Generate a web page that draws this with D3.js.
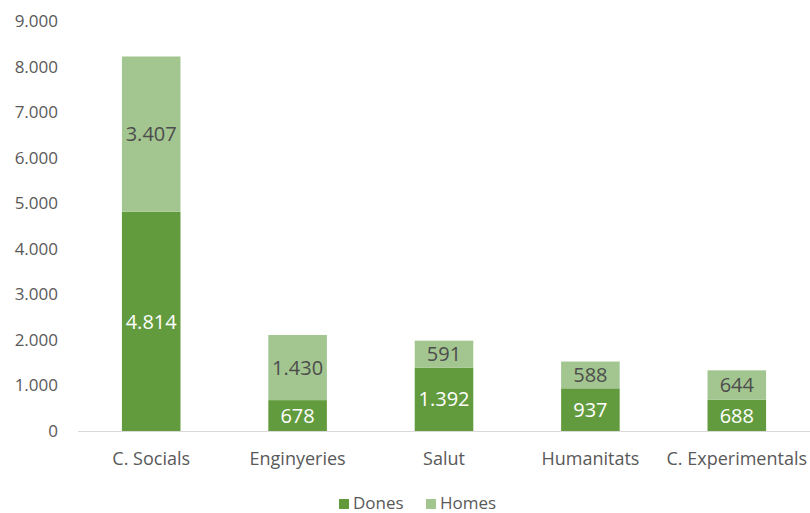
<!DOCTYPE html>
<html>
<head>
<meta charset="utf-8">
<script src="https://cdn.jsdelivr.net/npm/d3@7"></script>
<style>
  body { margin: 0; background: #fff; }
  text { font-family: "Open Sans", sans-serif; }
</style>
</head>
<body>
<div id="chart"></div>
<script>
var categories = ["C. Socials", "Enginyeries", "Salut", "Humanitats", "C. Experimentals"];
var dones = [4814, 678, 1392, 937, 688];
var homes = [3407, 1430, 591, 588, 644];
var seriesNames = ["Dones", "Homes"];
var yTicks = [0, 1000, 2000, 3000, 4000, 5000, 6000, 7000, 8000, 9000];

var width = 810, height = 513;
var m = {top: 21, right: 0, bottom: 82, left: 78};
var colors = {Dones: "#629b3e", Homes: "#a3c690"};
var labelColors = {Dones: "#ffffff", Homes: "#4d4d4d"};

var fmt = function(v) { return d3.format(",")(v).replace(/,/g, "."); };

var rows = categories.map(function(c, i) {
  return {cat: c, Dones: dones[i], Homes: homes[i]};
});

var svg = d3.select("#chart").append("svg")
  .attr("width", width)
  .attr("height", height);

var x = d3.scaleBand().domain(categories).range([m.left, width - m.right]).paddingInner(0.6).paddingOuter(0.3);
var y = d3.scaleLinear().domain([0, 9000]).range([height - m.bottom, m.top]);

// y tick labels
svg.append("g")
  .selectAll("text")
  .data(yTicks)
  .enter().append("text")
  .attr("x", 58)
  .attr("y", function(d) { return y(d); })
  .attr("dy", "0.35em")
  .attr("text-anchor", "end")
  .attr("font-size", 17)
  .attr("fill", "#595959")
  .text(function(d) { return fmt(d); });

var stack = d3.stack().keys(seriesNames)(rows);

var layers = svg.append("g").selectAll("g")
  .data(stack)
  .enter().append("g")
  .attr("fill", function(d) { return colors[d.key]; });

layers.selectAll("rect")
  .data(function(d) { return d; })
  .enter().append("rect")
  .attr("x", function(d) { return x(d.data.cat); })
  .attr("y", function(d) { return y(d[1]); })
  .attr("width", x.bandwidth())
  .attr("height", function(d) { return y(d[0]) - y(d[1]); });

// data labels
stack.forEach(function(layer) {
  svg.append("g").selectAll("text")
    .data(layer)
    .enter().append("text")
    .attr("x", function(d) { return x(d.data.cat) + x.bandwidth() / 2; })
    .attr("y", function(d) { return (y(d[0]) + y(d[1])) / 2; })
    .attr("dy", "0.36em")
    .attr("text-anchor", "middle")
    .attr("font-size", 20)
    .attr("fill", labelColors[layer.key])
    .text(function(d) { return fmt(d[1] - d[0]); });
});

// baseline
svg.append("line")
  .attr("x1", m.left)
  .attr("x2", width - m.right)
  .attr("y1", y(0) + 0.5)
  .attr("y2", y(0) + 0.5)
  .attr("stroke", "#d9d9d9")
  .attr("stroke-width", 1);

// category labels
svg.append("g").selectAll("text")
  .data(categories)
  .enter().append("text")
  .attr("x", function(d) { return x(d) + x.bandwidth() / 2; })
  .attr("y", 459)
  .attr("dy", "0.35em")
  .attr("text-anchor", "middle")
  .attr("font-size", 18)
  .attr("fill", "#595959")
  .text(function(d) { return d; });

// legend
var legendX = [339, 426];
var legend = svg.append("g").selectAll("g")
  .data(seriesNames)
  .enter().append("g")
  .attr("transform", function(d, i) { return "translate(" + legendX[i] + ",503)"; });

legend.append("rect")
  .attr("x", 0)
  .attr("y", -4)
  .attr("width", 10)
  .attr("height", 10)
  .attr("fill", function(d) { return colors[d]; });

legend.append("text")
  .attr("x", 14)
  .attr("y", 0)
  .attr("dy", "0.35em")
  .attr("font-size", 17)
  .attr("fill", "#595959")
  .text(function(d) { return d; });
</script>
</body>
</html>
